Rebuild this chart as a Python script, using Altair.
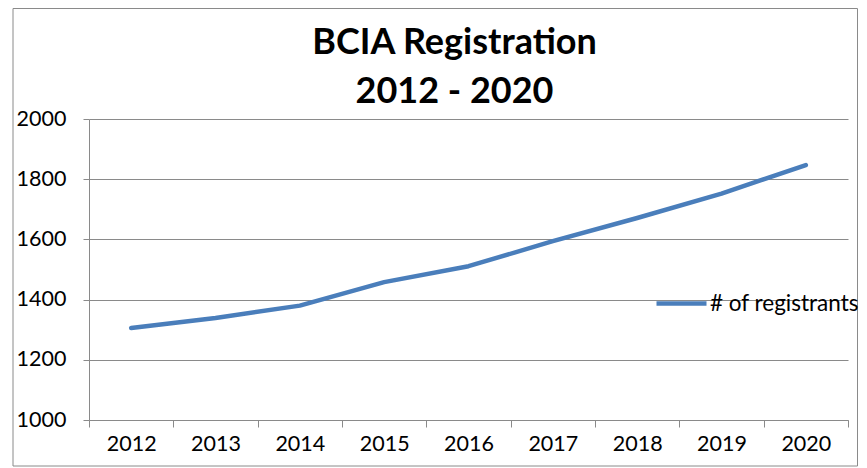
import altair as alt
import pandas as pd

years = ["2012", "2013", "2014", "2015", "2016", "2017", "2018", "2019", "2020"]
registrants = [1306, 1339, 1380, 1458, 1511, 1594, 1671, 1752, 1847]
series_name = "# of registrants"
y_ticks = [1000, 1200, 1400, 1600, 1800, 2000]
title_lines = ["BCIA Registration", "2012 - 2020"]

df = pd.DataFrame({"year": years, "value": registrants, "series": [series_name] * len(years)})

FONT = "Lato"
GRAY = "#8a8a8a"
BLUE = "#4a7ebb"

line = alt.Chart(df).mark_line(strokeWidth=4.5, strokeCap="round", strokeJoin="round").encode(
    x=alt.X("year:N", sort=years, title=None,
            scale=alt.Scale(paddingInner=0, paddingOuter=0),
            axis=alt.Axis(labelAngle=0, tickBand="extent", tickSize=7, tickColor=GRAY,
                          domainColor=GRAY, labelFont=FONT, labelFontSize=21.5,
                          labelColor="black", labelPadding=6, grid=False)),
    y=alt.Y("value:Q", title=None,
            scale=alt.Scale(domain=[1000, 2000], nice=False, zero=False),
            axis=alt.Axis(values=y_ticks, format="d", tickSize=6, tickColor=GRAY,
                          domainColor=GRAY, gridColor=GRAY, grid=True, labelFont=FONT,
                          labelFontSize=21.5, labelColor="black", labelPadding=17)),
    color=alt.Color("series:N", scale=alt.Scale(range=[BLUE]),
                    legend=alt.Legend(title=None, orient="none", legendX=565, legendY=157,
                                      symbolType="stroke", symbolSize=2500,
                                      symbolStrokeWidth=4.5, labelFont=FONT,
                                      labelFontSize=22.5, labelColor="black",
                                      labelOffset=1, padding=0)),
)

frame_df = pd.DataFrame({"k": [0]})
frame = alt.Chart(frame_df).mark_rect(filled=False, stroke=GRAY, strokeWidth=1).encode(
    x=alt.value(-76), x2=alt.value(768.5), y=alt.value(-110.5), y2=alt.value(347)
)

chart = alt.layer(frame, line).properties(
    width=759, height=301,
    title=alt.TitleParams(title_lines, font=FONT, fontSize=36, fontWeight="bold",
                          color="black", anchor="middle", frame="group", dx=-14,
                          offset=-103, lineHeight=49),
    autosize=alt.AutoSizeParams(type="none"),
    padding={"left": 81, "top": 111, "right": 11, "bottom": 48},
).configure_view(stroke=None)

chart.save("out.html", embed_options={"renderer": "svg", "actions": False})
